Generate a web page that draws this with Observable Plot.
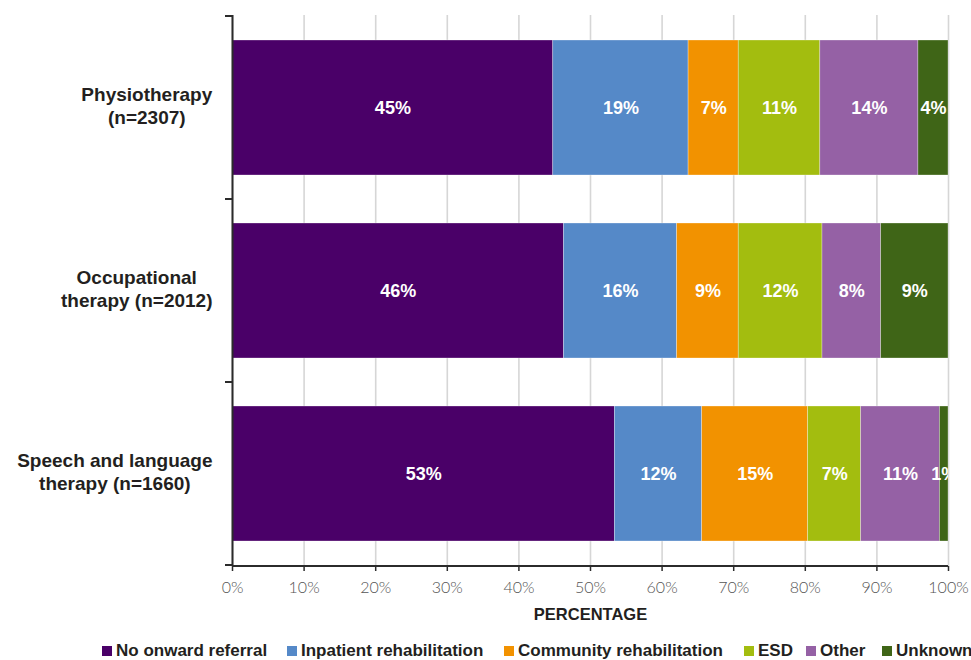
<!DOCTYPE html>
<html>
<head>
<meta charset="utf-8">
<script src="https://cdn.jsdelivr.net/npm/d3@7"></script>
<script src="https://cdn.jsdelivr.net/npm/@observablehq/plot@0.6"></script>
<style>
  html, body { margin: 0; padding: 0; background: #fff; }
  body { width: 971px; height: 660px; overflow: hidden; font-family: "Liberation Sans", Arial, sans-serif; }
  #chart svg { display: block; }
  #legend { position: relative; width: 971px; height: 38px; overflow: hidden; white-space: nowrap; }
  .item { position: absolute; top: 0; height: 38px; display: flex; align-items: center;
          font-weight: bold; font-size: 17px; color: #231f20; }
  .sw { width: 10px; height: 10px; margin-right: 4px; flex: none; }
</style>
</head>
<body>
<div id="chart"></div>
<div id="legend"></div>
<script>
// ---- data ----
const categories = ["Physiotherapy\n(n=2307)", "Occupational\ntherapy (n=2012)", "Speech and language\ntherapy (n=1660)"];
const seriesNames = ["No onward referral", "Inpatient rehabilitation", "Community rehabilitation", "ESD", "Other", "Unknown"];
const physiotherapy = [44.8, 18.9, 7.0, 11.4, 13.7, 4.2];
const occupational = [46.3, 15.8, 8.6, 11.7, 8.2, 9.4];
const speech = [53.4, 12.2, 14.8, 7.4, 11.0, 1.2];
const xTicks = [0, 10, 20, 30, 40, 50, 60, 70, 80, 90, 100];
const xTitle = "PERCENTAGE";

// ---- styles ----
const colors = ["#4a0068", "#5589c8", "#f29200", "#a3bd0f", "#9561a5", "#3f6517"];
const legendLeft = [102, 287, 504, 744, 806, 882];

const seriesByCat = [physiotherapy, occupational, speech];
const rows = [];
categories.forEach((c, i) => seriesNames.forEach((s, j) => rows.push({cat: c, series: s, value: seriesByCat[i][j]})));

const padIn = 0.265;
const plot = Plot.plot({
  width: 971,
  height: 632,
  marginLeft: 232,
  marginRight: 23,
  marginTop: 15,
  marginBottom: 66,
  style: {fontFamily: "'Liberation Sans', Arial, sans-serif", background: "#fff"},
  x: {domain: [0, 100], label: null},
  y: {domain: categories, paddingInner: padIn, paddingOuter: padIn / 2, label: null},
  color: {domain: seriesNames, range: colors},
  marks: [
    Plot.gridX(xTicks, {stroke: "#d6d6d6", strokeOpacity: 1, strokeWidth: 1.6}),
    Plot.barX(rows, Plot.stackX({x: "value", y: "cat", fill: "series", order: null,
      stroke: "#ffffff", strokeWidth: 0.6, strokeOpacity: 0.5})),
    Plot.text(rows, Plot.stackX({x: "value", y: "cat", z: "series", order: null,
      text: d => Math.round(d.value) + "%", fill: "white", fontWeight: "bold", fontSize: 18, clip: true})),
    Plot.ruleX([0], {stroke: "#2b2b2b", strokeWidth: 2}),
    Plot.axisX(xTicks, {tickSize: 5, tickFormat: () => "", color: "#2b2b2b", strokeWidth: 1.5, label: null}),
    Plot.axisX(xTicks, {tickSize: 0, tickPadding: 15, tickFormat: d => d + "%", color: "#555",
      fontSize: 16, fontFamily: "Lato, 'Liberation Sans', sans-serif", fontWeight: 300, label: null}),
    Plot.text([xTitle], {frameAnchor: "bottom", lineAnchor: "middle", dy: 48, fontWeight: "bold", fontSize: 16.5, fill: "#231f20"}),
    Plot.axisY({tickSize: 0, tickPadding: 20, fontSize: 19, fontWeight: "bold", color: "#231f20",
      lineHeight: 1.22, dy: -3, label: null})
  ]
});
document.getElementById("chart").appendChild(plot);

// boundary ticks on the y axis and the x-axis baseline, positioned from Plot's scales
const ys = plot.scale("y"), xs = plot.scale("x");
const gap = (ys.step - ys.bandwidth) / 2;
const bounds = categories.map(c => ys.apply(c) - gap);
bounds.push(ys.apply(categories[categories.length - 1]) + ys.bandwidth + gap);
const svg = d3.select(plot.tagName.toLowerCase() === "svg" ? plot : plot.querySelector("svg"));
const x0 = xs.apply(0), x1 = xs.apply(100);
const g = svg.append("g").attr("stroke", "#2b2b2b").attr("stroke-width", 2);
g.append("line").attr("x1", x0).attr("x2", x1).attr("y1", ys.range[1]).attr("y2", ys.range[1]);
bounds.forEach(b => g.append("line").attr("x1", x0 - 7).attr("x2", x0).attr("y1", b).attr("y2", b));

// center each multi-line y label within its own block (right edge kept)
svg.selectAll('g[aria-label="y-axis tick label"] text').each(function() {
  const w = this.getBBox().width;
  d3.select(this).attr("text-anchor", "middle");
  d3.select(this).selectAll("tspan").attr("x", -w / 2);
});
svg.selectAll('g[aria-label="y-axis tick label"]').attr("text-anchor", "middle");

// legend
const legend = d3.select("#legend");
seriesNames.forEach((s, i) => {
  const it = legend.append("div").attr("class", "item").style("left", legendLeft[i] + "px");
  it.append("div").attr("class", "sw").style("background", colors[i]);
  it.append("span").text(s);
});
</script>
</body>
</html>
